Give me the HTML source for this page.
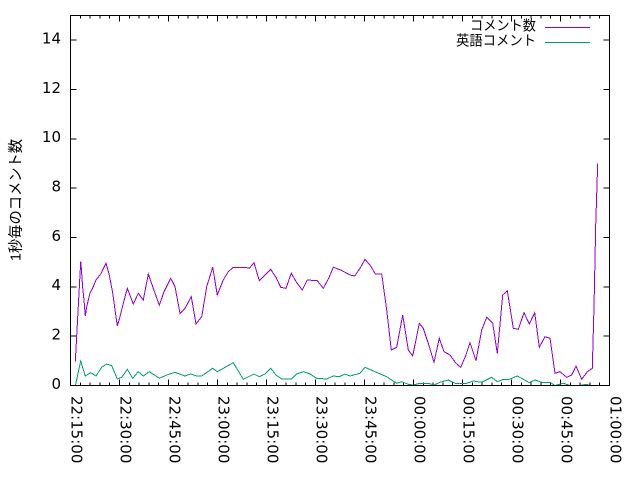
<!DOCTYPE html>
<html><head><meta charset="utf-8"><style>
html,body{margin:0;padding:0;background:#fff;}
svg{display:block;}
</style></head><body>
<svg width="640" height="480" viewBox="0 0 640 480" xmlns="http://www.w3.org/2000/svg">
<rect x="0" y="0" width="640" height="480" fill="#fff"/>
<!-- ticks -->
<g stroke="#000" stroke-width="1" fill="none" shape-rendering="crispEdges">
<path d="M80.3 385.5v-3M90.1 385.5v-3M99.9 385.5v-3M109.7 385.5v-3M129.3 385.5v-3M139.1 385.5v-3M148.9 385.5v-3M158.7 385.5v-3M178.3 385.5v-3M188.1 385.5v-3M197.9 385.5v-3M207.7 385.5v-3M227.3 385.5v-3M237.1 385.5v-3M246.9 385.5v-3M256.7 385.5v-3M276.3 385.5v-3M286.1 385.5v-3M295.9 385.5v-3M305.7 385.5v-3M325.3 385.5v-3M335.1 385.5v-3M344.9 385.5v-3M354.7 385.5v-3M374.3 385.5v-3M384.1 385.5v-3M393.9 385.5v-3M403.7 385.5v-3M423.3 385.5v-3M433.1 385.5v-3M442.9 385.5v-3M452.7 385.5v-3M472.3 385.5v-3M482.1 385.5v-3M491.9 385.5v-3M501.7 385.5v-3M521.3 385.5v-3M531.1 385.5v-3M540.9 385.5v-3M550.7 385.5v-3M570.3 385.5v-3M580.1 385.5v-3M589.9 385.5v-3M599.7 385.5v-3"/>
<path d="M80.3 15.5v3M90.1 15.5v3M99.9 15.5v3M109.7 15.5v3M129.3 15.5v3M139.1 15.5v3M148.9 15.5v3M158.7 15.5v3M178.3 15.5v3M188.1 15.5v3M197.9 15.5v3M207.7 15.5v3M227.3 15.5v3M237.1 15.5v3M246.9 15.5v3M256.7 15.5v3M276.3 15.5v3M286.1 15.5v3M295.9 15.5v3M305.7 15.5v3M325.3 15.5v3M335.1 15.5v3M344.9 15.5v3M354.7 15.5v3M374.3 15.5v3M384.1 15.5v3M393.9 15.5v3M403.7 15.5v3M423.3 15.5v3M433.1 15.5v3M442.9 15.5v3M452.7 15.5v3M472.3 15.5v3M482.1 15.5v3M491.9 15.5v3M501.7 15.5v3M521.3 15.5v3M531.1 15.5v3M540.9 15.5v3M550.7 15.5v3M570.3 15.5v3M580.1 15.5v3M589.9 15.5v3M599.7 15.5v3"/>
<path d="M119.5 385.5v-6M168.5 385.5v-6M217.5 385.5v-6M266.5 385.5v-6M315.5 385.5v-6M364.5 385.5v-6M413.5 385.5v-6M462.5 385.5v-6M511.5 385.5v-6M560.5 385.5v-6"/>
<path d="M119.5 15.5v6M168.5 15.5v6M217.5 15.5v6M266.5 15.5v6M315.5 15.5v6M364.5 15.5v6M413.5 15.5v6M462.5 15.5v6M511.5 15.5v6M560.5 15.5v6"/>
<path d="M70.5 336.2h6M70.5 286.8h6M70.5 237.5h6M70.5 188.2h6M70.5 138.8h6M70.5 89.5h6M70.5 40.2h6"/>
<path d="M609.5 336.2h-6M609.5 286.8h-6M609.5 237.5h-6M609.5 188.2h-6M609.5 138.8h-6M609.5 89.5h-6M609.5 40.2h-6"/>
</g>
<!-- y tick labels -->
<g font-family="'DejaVu Sans', 'Liberation Sans', sans-serif" font-size="15" fill="#000" text-anchor="end">
<text x="61" y="388.8">0</text>
<text x="61" y="339.5">2</text>
<text x="61" y="290.1">4</text>
<text x="61" y="240.8">6</text>
<text x="61" y="191.5">8</text>
<text x="61" y="142.1">10</text>
<text x="61" y="92.8">12</text>
<text x="61" y="43.5">14</text>
</g>
<!-- x tick labels -->
<g font-family="'DejaVu Sans', 'Liberation Sans', sans-serif" font-size="15" fill="#000">
<text transform="translate(71.5,396) rotate(90)">22:15:00</text>
<text transform="translate(120.5,396) rotate(90)">22:30:00</text>
<text transform="translate(169.5,396) rotate(90)">22:45:00</text>
<text transform="translate(218.5,396) rotate(90)">23:00:00</text>
<text transform="translate(267.5,396) rotate(90)">23:15:00</text>
<text transform="translate(316.5,396) rotate(90)">23:30:00</text>
<text transform="translate(365.5,396) rotate(90)">23:45:00</text>
<text transform="translate(414.5,396) rotate(90)">00:00:00</text>
<text transform="translate(463.5,396) rotate(90)">00:15:00</text>
<text transform="translate(512.5,396) rotate(90)">00:30:00</text>
<text transform="translate(561.5,396) rotate(90)">00:45:00</text>
<text transform="translate(610.5,396) rotate(90)">01:00:00</text>
</g>
<!-- y label -->
<text transform="translate(16,200) rotate(-90)" text-anchor="middle" dominant-baseline="central" font-family="'Liberation Sans', 'Noto Sans CJK JP', sans-serif" font-size="15" textLength="122" lengthAdjust="spacingAndGlyphs" fill="#000">1秒毎のコメント数</text>
<!-- data -->
<polyline fill="none" stroke="#009e73" stroke-width="1" shape-rendering="crispEdges" points="75.3,386 80.7,361 85.3,376 90.7,372.7 96,376 101.7,367.3 106.7,364 111.7,365.7 117.3,379 121.7,377.3 127.3,369.3 132.7,378.3 138.3,371.7 143.3,376 149.3,371.7 159.3,378.3 166.7,375 175,372.3 185,376 190.7,374 196.7,376 201.7,376 212.7,368.3 217.3,371.7 233.3,362.7 243.3,379.3 254,374 259.3,376.7 265,374 270.7,368.3 276,375 281.7,379 291.7,379 296.7,374 303.3,371.7 310,374 316.7,378.3 326.7,379 333.3,376 339.3,376.7 345,374 350,376 360,373.3 365,367.3 375,371.7 386.7,376.7 396.7,383.3 401.7,381.7 408.3,384.3 413.3,385 420,383.3 428.3,383.3 434,385 440,382.3 448.3,380 455,383.3 466.7,383.3 473.3,381 481.7,382.3 491.7,377.3 497.3,381.7 503.3,379.3 509.3,379.3 517.3,376 523.3,379.3 529.3,382.7 535,380 541.7,382.3 550,382.3 555,385.5 563.3,383.3 570,385.5 578.3,385.5 586.7,384.3 590,385.5 595,385.5"/>
<polyline fill="none" stroke="#9400d3" stroke-width="1" shape-rendering="crispEdges" points="75.3,361.7 80.7,261.7 81.3,268 82.7,288 84,300 85.3,316 86.7,306.7 90,293 93.3,286.7 96,280 100.7,274 106,263.3 109.3,275 112.7,293 117.3,326 120,316.7 123.3,303.3 127.3,288.3 133.3,304 138.3,293.3 143.3,300 148.3,274 153.3,288.3 159.3,305.3 164,291.7 170.7,278.3 175,286.7 180,313.3 185,308.3 191.3,296.7 196,324 201.7,316.7 206.7,286.7 212.7,267.3 217.3,295 223.3,280 228.3,271.7 233.3,267.3 245,267.3 249.3,268.3 254,262.7 259.3,280.7 270.7,269.3 276,277.3 280.7,287.3 286,288.3 291.3,273.3 296.7,282.7 302.3,290 307.3,280 317.3,280.7 323.3,288.3 328.7,278.3 333.3,267.3 340.7,270 350,275 354.7,276 360,268.3 365,259.3 370.7,266 375.3,274 381.7,274 386.7,310 391.3,350 396.7,347.3 402.7,315 408.3,350 412.7,356 419.3,323.3 423.3,328.3 428.3,343.3 434,362.3 439.3,338.3 444,351.7 450,355 456,363.3 460.7,367.3 465.3,356.7 470,342.7 476,360.7 481.7,330 486.7,317.3 492.7,323.3 497.3,353.3 502.7,295 507.3,290.7 513.3,328.3 518.3,329.3 524,312.7 529.3,324 534.7,312.7 539.3,347.3 545,336.7 550,338.3 555,373.3 560,371.7 566.7,377.3 571.7,375 576,366 581.7,379.3 587.3,371.7 592.3,368.3 594,306.7 595.7,225 597.7,163.3"/>
<!-- border -->
<rect x="70.5" y="15.5" width="539" height="370" fill="none" stroke="#000" stroke-width="1" shape-rendering="crispEdges"/>
<!-- legend -->
<g font-family="'Liberation Sans', 'Noto Sans CJK JP', sans-serif" font-size="14" fill="#000" text-anchor="end" dominant-baseline="central">
<text x="536" y="25.5" textLength="66" lengthAdjust="spacingAndGlyphs">コメント数</text>
<text x="536" y="40.5" textLength="80" lengthAdjust="spacingAndGlyphs">英語コメント</text>
</g>
<line x1="545" y1="27.5" x2="590" y2="27.5" stroke="#9400d3" stroke-width="1" shape-rendering="crispEdges"/>
<line x1="545" y1="42.5" x2="590" y2="42.5" stroke="#009e73" stroke-width="1" shape-rendering="crispEdges"/>
</svg>
</body></html>
